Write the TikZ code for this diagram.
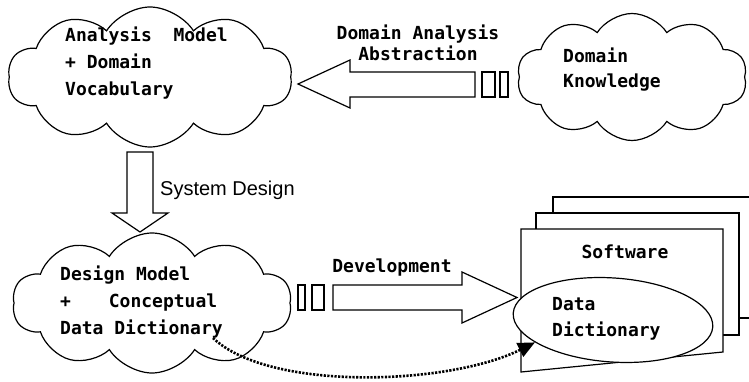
\documentclass[tikz,border=0pt]{standalone}
\usepackage{fontspec}
\setmainfont{Liberation Sans}
\newfontfamily\boxfont{DejaVu Sans Mono}
\usepackage{tikz}
\usetikzlibrary{shapes.symbols,shapes.geometric}
\usetikzlibrary{arrows.meta}

\tikzset{
	puff/.style={cloud, draw, line width=1.2pt, cloud puffs=10, cloud puff arc=115, aspect=2, inner sep=0pt},
	boxtext/.style={font=\boxfont\bfseries\fontsize{18}{27}\selectfont, align=left, inner sep=0pt},
	fat/.style={draw, line width=1.2pt, fill=white, line join=miter},
}

\begin{document}
\begin{tikzpicture}[x=1pt,y=-1pt]
	\useasboundingbox (0,0) rectangle (749,382);

	% clouds
	\node[puff, minimum width=284pt, minimum height=140pt] (anaCloud) at (150,77) {};
	\node[puff, minimum width=230pt, minimum height=127pt] (domCloud) at (632,77) {};
	\node[puff, minimum width=279pt, minimum height=140pt] (desCloud) at (152,303) {};

	\node[boxtext, anchor=west] (anaText) at (65,63) {Analysis\ \ Model\\+ Domain\\Vocabulary};
	\node[boxtext, anchor=west, font=\boxfont\bfseries\fontsize{18}{25}\selectfont] (domText) at (563,70) {Domain\\Knowledge};
	\node[boxtext, anchor=west] (desText) at (60,302) {Design Model\\+\hspace{2.1em}Conceptual\\Data Dictionary};

	% software pages
	\draw[fat] (749,197) -- (553,197) -- (553,318) -- (749,318);
	\draw[fat] (536,213) rectangle (739,335);
	\draw[fat] (521,229) -- (723,229) -- (723,352) -- (521,372) -- cycle;
	\node[boxtext] (swText) at (625,252) {Software};
	\node[ellipse, draw, line width=1.2pt, fill=white, minimum width=200pt, minimum height=84pt, rotate=-4] (dictEll) at (613,320) {};
	\node[boxtext, anchor=west, font=\boxfont\bfseries\fontsize{18}{26}\selectfont] (dictText) at (552,319) {Data\\Dictionary};

	% domain analysis arrow
	\draw[fat] (298,84) -- (350,60) -- (350,72) -- (475,72) -- (475,97) -- (350,97) -- (350,108) -- cycle;
	\draw[fat] (482,72) rectangle (495,97);
	\draw[fat] (500,72) rectangle (508,97);
	\node[boxtext, align=center, font=\boxfont\bfseries\fontsize{18}{21}\selectfont] (absText) at (418,43) {Domain Analysis\\Abstraction};

	% system design arrow
	\draw[fat] (127,152) -- (153,152) -- (153,213) -- (168,213) -- (140,232) -- (112,213) -- (127,213) -- cycle;
	\node[anchor=west, inner sep=0pt, font=\fontsize{20}{24}\selectfont] (sysText) at (160,190) {System Design};

	% development arrow
	\draw[fat] (298,285) rectangle (305,310);
	\draw[fat] (312,285) rectangle (324,310);
	\draw[fat] (333,285) -- (462,285) -- (462,272) -- (517,297.5) -- (462,323) -- (462,310) -- (333,310) -- cycle;
	\node[boxtext] (devText) at (392,268) {Development};

	% dictionary link
	\coordinate (dotStart) at (213,338);
	\draw[line width=2.6pt, dash pattern=on 2.2pt off 1.4pt, -{Triangle[length=17pt,width=15pt]}]
		(dotStart) .. controls (270,392) and (450,385) .. (dictEll.200);

\end{tikzpicture}
\end{document}
